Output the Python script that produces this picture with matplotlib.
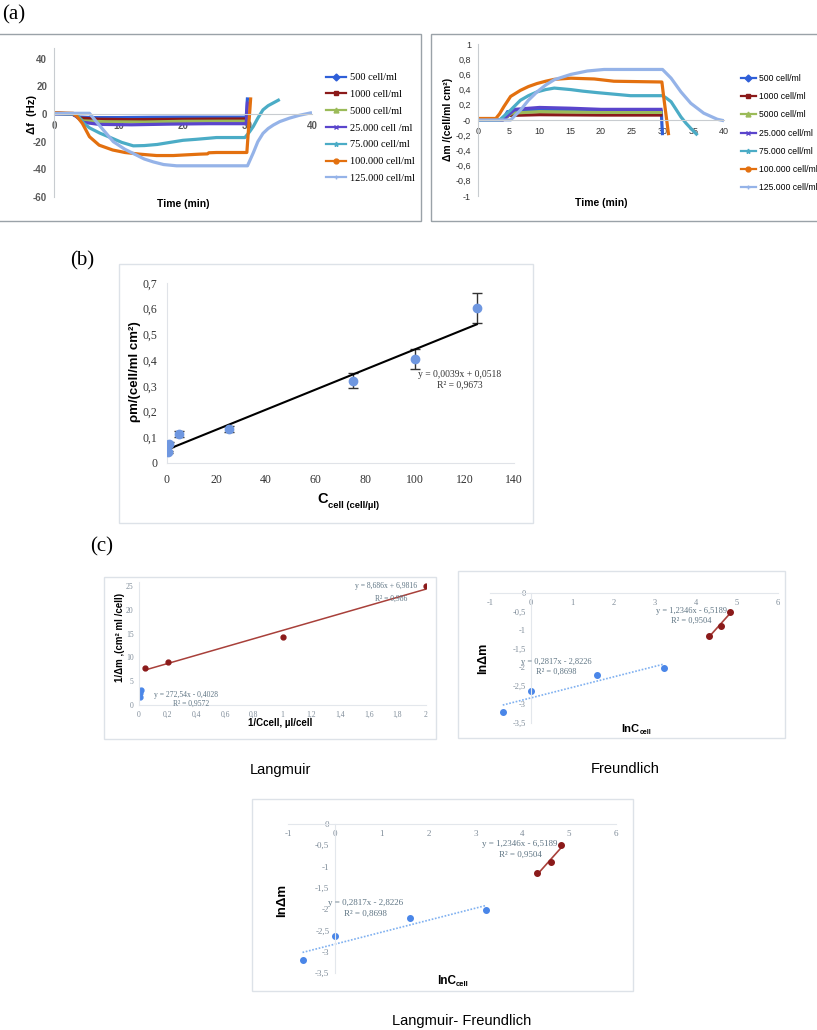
import numpy as np
import matplotlib
matplotlib.use('Agg')
import matplotlib.pyplot as plt
from matplotlib.patches import Rectangle
from matplotlib.lines import Line2D
from matplotlib.ticker import FuncFormatter
from matplotlib.transforms import Bbox, TransformedBbox

plt.rcParams['axes.unicode_minus'] = False

# ---------------- data ----------------
labels_a = ['500 cell/ml', '1000 cell/ml', '5000 cell/ml', '25.000 cell /ml',
            '75.000 cell/ml', '100.000 cell/ml', '125.000 cell/ml']
labels_a2 = ['500 cell/ml', '1000 cell/ml', '5000 cell/ml', '25.000 cell/ml',
             '75.000 cell/ml', '100.000 cell/ml', '125.000 cell/ml']
colors_a = ['#2f5fd8', '#8b1a1a', '#9bbb59', '#5a45cc', '#4bacc6', '#e3700f', '#95b3e8']
markers_a = ['D', 's', '^', 'x', '*', 'o', '+']

# (a) left: frequency shift (Hz) vs time (min)
t_f500 = [0, 2.8, 3.8, 6, 10, 15, 20, 25, 29.8, 29.9, 30.0]
df_500 = [0.5, 0, -2.2, -2.6, -2.6, -2.4, -2.3, -2.3, -2.3, 4, 12]
t_f1000 = [0, 2.8, 4, 7, 12, 18, 24, 29.8]
df_1000 = [0.8, 0, -3, -3.8, -4.1, -3.9, -3.7, -3.6]
t_f5000 = [0, 3, 4.5, 8, 14, 20, 26, 29.8]
df_5000 = [0.3, 0, -5, -5.6, -5.8, -5.3, -5.2, -5.2]
t_f25k = [0, 3, 4.5, 7, 12, 18, 24, 29.8, 29.9, 30.0]
df_25k = [0, 0, -6, -7.5, -7.8, -7.3, -7, -7, 2, 9]
t_f75k = [0, 3.5, 4.6, 5.5, 7.1, 9, 10.5, 12.3, 14, 16, 18, 20, 22, 24, 25.2, 27, 29.6,
          30.3, 30.9, 31.6, 32.4, 33.2, 34, 35]
df_75k = [0.3, 0, -6.7, -10, -13.8, -17.5, -20.5, -23, -22.8, -22, -20.5, -19, -18.3, -17.5,
          -17, -17, -17, -13, -9, -3, 3, 6, 8, 10.5]
t_f100k = [0, 3, 3.6, 4.4, 5.5, 7, 9.1, 11, 13.3, 15.9, 18.5, 20.5, 22.6, 23.8, 24, 25.2,
           29.9, 30.2, 30.5]
df_100k = [1, 0.5, -2, -6.8, -16.4, -22.5, -26, -27.8, -29, -30, -30, -29.5, -29, -28.8,
           -28, -27.8, -27.8, -8, 12]
t_f125k = [0, 5.5, 7, 9.2, 11, 12.8, 14, 15.4, 17, 19, 25, 30, 30.9, 31.6, 32.4, 33.2,
           34, 35, 36.5, 38, 40]
df_125k = [0.5, 0.5, -8, -20, -25.5, -29.7, -32.5, -34.6, -36.5, -37.4, -37.4, -37.4,
           -28, -20, -14, -10.5, -8, -5.5, -3, -1, 1]

# (a) right: mass change vs time (min)
t_m500 = [0, 4, 4.8, 8, 15, 22, 29.8, 29.9, 30.0]
dm_500 = [0, 0, 0.11, 0.125, 0.125, 0.125, 0.125, -0.05, -0.2]
t_m1000 = [0, 4, 5, 10, 20, 30]
dm_1000 = [0, 0, 0.06, 0.07, 0.065, 0.065]
t_m5000 = [0, 4, 5.5, 10, 20, 30]
dm_5000 = [0, 0, 0.09, 0.11, 0.1, 0.1]
t_m25k = [0, 4, 6, 10, 15, 20, 30]
dm_25k = [0, 0, 0.14, 0.165, 0.155, 0.14, 0.14]
t_m75k = [0, 3.5, 4.2, 5.3, 6.9, 8.2, 9.6, 11, 12.4, 15.1, 17, 19.4, 22.1, 24.8, 30,
          30.6, 31.4, 32.2, 33, 33.8, 34.6, 35.7]
dm_75k = [0, 0, 0.05, 0.13, 0.26, 0.32, 0.37, 0.4, 0.42, 0.4, 0.38, 0.36, 0.34, 0.32, 0.32,
          0.29, 0.24, 0.14, 0.04, -0.04, -0.11, -0.2]
t_m100k = [0, 2.9, 3.5, 4.2, 5.3, 6.9, 8.2, 9.6, 11, 12.4, 15.1, 18.9, 22.1, 29.9, 30.2,
           30.6, 31]
dm_100k = [0.02, 0.02, 0.08, 0.175, 0.31, 0.39, 0.44, 0.48, 0.51, 0.535, 0.55, 0.54, 0.51,
           0.5, 0.3, 0.05, -0.2]
t_m125k = [0, 5.3, 6.9, 8.2, 9.6, 11, 12.4, 15.1, 17.8, 20.5, 30, 31.4, 33, 34.6, 36.7,
           38.9, 40]
dm_125k = [0, 0, 0.13, 0.26, 0.37, 0.46, 0.53, 0.6, 0.645, 0.665, 0.665, 0.55, 0.37, 0.22,
           0.09, 0.01, -0.01]

# (b) mass vs cell concentration
c_cell = [0.5, 1, 5, 25, 75, 100, 125]
dm_cell = [0.043, 0.072, 0.113, 0.133, 0.32, 0.405, 0.602]
dm_err = [0.005, 0.009, 0.01, 0.012, 0.03, 0.04, 0.058]
fit_b = (0.0039, 0.0518)

# (c) Langmuir
inv_c_red = [0.04, 0.2, 1, 2]
inv_dm_red = [7.7, 9.1, 14.2, 25.0]
inv_c_blue = [0.008, 0.01, 0.0133]
inv_dm_blue = [1.7, 2.5, 3.1]
fit_l_red = (8.686, 6.9816)
fit_l_blue = (272.54, -0.4028)

# (c) Freundlich / Langmuir-Freundlich
lnc_blue = [-0.69, 0, 1.61, 3.22]
lndm_blue = [-3.2, -2.63, -2.2, -2.02]
lnc_red = [4.32, 4.61, 4.83]
lndm_red = [-1.15, -0.9, -0.5]
fit_f_blue = (0.2817, -2.8226)
fit_f_red = (1.2346, -6.5189)

# ---------------- figure ----------------
W, H = 817, 1030
fig = plt.figure(figsize=(W / 100, H / 100), dpi=100)
SANS = 'Liberation Sans'
SERIF = 'Liberation Serif'

comma = FuncFormatter(lambda v, p: ('%g' % v).replace('.', ','))


def px_axes(l, t, r, b):
    return fig.add_axes([l / W, 1 - b / H, (r - l) / W, (b - t) / H])


def frame(l, t, r, b, color, lw=1.0):
    fig.add_artist(Rectangle((l / W, 1 - b / H), (r - l) / W, (b - t) / H,
                             transform=fig.transFigure, fill=False, ec=color, lw=lw))


def ptext(x, y, s, **kw):
    return fig.text(x / W, 1 - y / H, s, **kw)


def line_fit(ax, xs, coef, **kw):
    xx = np.array([min(xs), max(xs)])
    ax.plot(xx, coef[0] * xx + coef[1], **kw)


# panel labels
ptext(14, 15, '(a)', family=SERIF, fontsize=15, ha='center', va='center')
ptext(82, 261, '(b)', family=SERIF, fontsize=15, ha='center', va='center')
ptext(102, 547, '(c)', family=SERIF, fontsize=15, ha='center', va='center')

# frames
frame(-2, 34, 421, 221, '#9aa2a8')
frame(431, 34, 820, 221, '#9aa2a8')
frame(119, 264, 533, 523, '#dde2e8')
frame(104, 577, 436, 739, '#dde2e8')
frame(458, 571, 785, 738, '#dde2e8')
frame(252, 799, 633, 991, '#dde2e8')

# ---------- (a) left ----------
ax1 = px_axes(54, 47.5, 312, 197.1)
series_f = [(t_f500, df_500), (t_f1000, df_1000), (t_f5000, df_5000), (t_f25k, df_25k),
            (t_f75k, df_75k), (t_f100k, df_100k), (t_f125k, df_125k)]
for (tt, vv), c in zip(series_f, colors_a):
    ax1.plot(tt, vv, color=c, lw=2.3, solid_capstyle='butt')
ax1.set_xlim(0, 40)
ax1.set_ylim(-60, 48)
ax1.set_yticks([40, 20, 0, -20, -40, -60])
ax1.set_xticks([0, 10, 20, 30, 40])
for s in ['top', 'right']:
    ax1.spines[s].set_visible(False)
ax1.spines['bottom'].set_position(('data', 0))
ax1.spines['bottom'].set_color('#c8ccd0')
ax1.spines['left'].set_color('#c8ccd0')
ax1.tick_params(length=0, labelsize=7, labelcolor='#595959', pad=5)
for lab in ax1.get_xticklabels() + ax1.get_yticklabels():
    lab.set_family(SANS)
    lab.set_fontweight('bold')
ax1.patch.set_visible(False)
ptext(183, 204, 'Time (min)', family=SANS, fontweight='bold', fontsize=7.5,
      ha='center', va='center')
ptext(32, 114, '\u0394f  (Hz)', family=SANS, fontweight='bold', fontsize=8,
      ha='center', va='center', rotation=90)

handles = [Line2D([], [], color=c, lw=1.6, marker=m, markersize=3.5, mew=1)
           for c, m in zip(colors_a, markers_a)]
leg1 = fig.legend(handles, labels_a, loc='upper left',
                  bbox_to_anchor=(326 / W, 1 - 73 / H), frameon=False,
                  prop={'family': SERIF, 'size': 7.5}, labelspacing=0.72,
                  handlelength=1.9, handletextpad=0.45, borderpad=0, borderaxespad=0)
clipbox = TransformedBbox(Bbox([[0, 0], [420 / W, 1]]), fig.transFigure)
for txt in leg1.get_texts():
    txt.set_clip_on(True)
    txt.set_clip_box(clipbox)

# ---------- (a) right ----------
ax2 = px_axes(478, 44, 724, 196)
series_m = [(t_m500, dm_500), (t_m1000, dm_1000), (t_m5000, dm_5000), (t_m25k, dm_25k),
            (t_m75k, dm_75k), (t_m100k, dm_100k), (t_m125k, dm_125k)]
for (tt, vv), c in zip(series_m, colors_a):
    ax2.plot(tt, vv, color=c, lw=2.3, solid_capstyle='butt')
ax2.set_xlim(0, 40)
ax2.set_ylim(-1, 1)
ax2.set_yticks(np.round(np.arange(-1, 1.01, 0.2), 1))
ax2.set_xticks([0, 5, 10, 15, 20, 25, 30, 35, 40])
ax2.yaxis.set_major_formatter(comma)
for s in ['top', 'right']:
    ax2.spines[s].set_visible(False)
ax2.spines['bottom'].set_position(('data', 0))
ax2.spines['bottom'].set_color('#c8ccd0')
ax2.spines['left'].set_color('#c8ccd0')
ax2.tick_params(length=0, labelsize=6.5, labelcolor='#333333', pad=5)
for lab in ax2.get_xticklabels() + ax2.get_yticklabels():
    lab.set_family(SANS)
ax2.patch.set_visible(False)
ptext(601, 203, 'Time (min)', family=SANS, fontweight='bold', fontsize=7.5,
      ha='center', va='center')
ptext(448, 119, '\u0394m /(cell/ml cm\u00b2)', family=SANS, fontweight='bold', fontsize=7.5,
      ha='center', va='center', rotation=90)
fig.legend(handles, labels_a2, loc='upper left',
           bbox_to_anchor=(741 / W, 1 - 74 / H), frameon=False,
           prop={'family': SANS, 'size': 6.2}, labelspacing=1.07,
           handlelength=1.7, handletextpad=0.4, borderpad=0, borderaxespad=0)

# ---------- (b) ----------
axb = px_axes(167, 283, 514, 463)
axb.errorbar(c_cell, dm_cell, yerr=dm_err, fmt='none', ecolor='#333333', elinewidth=1,
             capsize=3.5, capthick=1, zorder=2)
line_fit(axb, c_cell, fit_b, color='black', lw=1.5, zorder=3)
axb.plot(c_cell, dm_cell, 'o', color='#6f97e0', markersize=6, zorder=4)
axb.set_xlim(0, 140)
axb.set_ylim(0, 0.7)
axb.set_xticks(range(0, 141, 20))
axb.set_yticks(np.round(np.arange(0, 0.71, 0.1), 1))
axb.yaxis.set_major_formatter(comma)
for s in ['top', 'right']:
    axb.spines[s].set_visible(False)
axb.spines['left'].set_color('#e0e3e8')
axb.spines['bottom'].set_color('#e0e3e8')
axb.tick_params(length=0, labelsize=8.5, labelcolor='#333333')
axb.tick_params(axis='x', pad=8)
axb.tick_params(axis='y', pad=7)
for lab in axb.get_xticklabels() + axb.get_yticklabels():
    lab.set_family(SERIF)
axb.patch.set_visible(False)
axb.text(118, 0.346, 'y = 0,0039x + 0,0518', family=SERIF, fontsize=6.9, color='#333333',
         ha='center', va='center')
axb.text(118, 0.304, 'R\u00b2 = 0,9673', family=SERIF, fontsize=6.9, color='#333333',
         ha='center', va='center')
ptext(323, 499, 'C', family=SANS, fontweight='bold', fontsize=10.5, ha='center', va='center')
ptext(328, 505, 'cell (cell/\u00b5l)', family=SANS, fontweight='bold', fontsize=6.8,
      ha='left', va='center')
ptext(135, 372, '\u03c1m/(cell/ml cm\u00b2)', family=SANS, fontweight='bold', fontsize=9.5,
      ha='center', va='center', rotation=90)

# ---------- (c) Langmuir ----------
tick_col = '#7f8c99'
eq_col = '#5f7584'
red_pt = '#8b1a1a'
red_ln = '#a8403a'
blue_pt = '#4a86e8'
blue_ln = '#7fb0f0'

axl = px_axes(139, 582, 426, 705)
line_fit(axl, inv_c_red, fit_l_red, color=red_ln, lw=1.1)
line_fit(axl, inv_c_blue, fit_l_blue, color=blue_ln, lw=1.1)
axl.plot(inv_c_red, inv_dm_red, 'o', color=red_pt, markersize=3.5)
axl.plot(inv_c_blue, inv_dm_blue, 'o', color=blue_pt, markersize=3.5)
axl.set_xlim(0, 2)
axl.set_ylim(0, 25 * 123 / 119)
axl.set_xticks(np.round(np.arange(0, 2.01, 0.2), 1))
axl.set_yticks([0, 5, 10, 15, 20, 25])
axl.xaxis.set_major_formatter(comma)
for s in ['top', 'right']:
    axl.spines[s].set_visible(False)
axl.spines['left'].set_color('#e3e7ec')
axl.spines['bottom'].set_color('#e3e7ec')
axl.tick_params(length=0, labelsize=5.5, labelcolor=tick_col, pad=4)
for lab in axl.get_xticklabels() + axl.get_yticklabels():
    lab.set_family(SERIF)
axl.patch.set_visible(False)
axl.text(1.72, 24.9, 'y = 8,686x + 6,9816', family=SERIF, fontsize=5.5, color=eq_col,
         ha='center', va='center')
axl.text(1.76, 22.4, 'R\u00b2 = 0,986', family=SERIF, fontsize=5.5, color=eq_col,
         ha='center', va='center')
axl.text(0.33, 2.0, 'y = 272,54x - 0,4028', family=SERIF, fontsize=5.5, color=eq_col,
         ha='center', va='center')
axl.text(0.36, 0.3, 'R\u00b2 = 0,9572', family=SERIF, fontsize=5.5, color=eq_col,
         ha='center', va='center')
ptext(280, 723, '1/Ccell, \u00b5l/cell', family=SANS, fontweight='bold', fontsize=7,
      ha='center', va='center')
ptext(120, 637, '1/\u0394m ,(cm\u00b2 ml /cell)', family=SANS, fontweight='bold', fontsize=7,
      ha='center', va='center', rotation=90)
ptext(280, 770, 'Langmuir', family=SANS, fontsize=10.5, ha='center', va='center')


# ---------- (c) Freundlich & Langmuir-Freundlich ----------
def freundlich(ax, fs_tick, fs_eq, eq_red_xy, eq_blue_xy, dy):
    line_fit(ax, lnc_blue, fit_f_blue, color=blue_ln, lw=1.2, ls=(0, (1, 1)))
    line_fit(ax, lnc_red, fit_f_red, color=red_ln, lw=1.2)
    ax.plot(lnc_blue, lndm_blue, 'o', color=blue_pt, markersize=4)
    ax.plot(lnc_red, lndm_red, 'o', color=red_pt, markersize=4)
    ax.set_xlim(-1, 6)
    ax.set_ylim(-3.5, 0)
    ax.set_xticks(range(-1, 7))
    ax.set_yticks(np.round(np.arange(-3.5, 0.01, 0.5), 1))
    ax.yaxis.set_major_formatter(comma)
    for s in ['top', 'right']:
        ax.spines[s].set_visible(False)
    ax.spines['bottom'].set_position(('data', 0))
    ax.spines['left'].set_position(('data', 0))
    ax.spines['left'].set_color('#e3e7ec')
    ax.spines['bottom'].set_color('#e3e7ec')
    ax.tick_params(length=0, labelsize=fs_tick, labelcolor=tick_col, pad=4)
    for lab in ax.get_xticklabels() + ax.get_yticklabels():
        lab.set_family(SERIF)
    ax.patch.set_visible(False)
    ax.text(eq_red_xy[0], eq_red_xy[1], 'y = 1,2346x - 6,5189', family=SERIF,
            fontsize=fs_eq, color=eq_col, ha='center', va='center')
    ax.text(eq_red_xy[0], eq_red_xy[1] - dy, 'R\u00b2 = 0,9504', family=SERIF,
            fontsize=fs_eq, color=eq_col, ha='center', va='center')
    ax.text(eq_blue_xy[0], eq_blue_xy[1], 'y = 0,2817x - 2,8226', family=SERIF,
            fontsize=fs_eq, color=eq_col, ha='center', va='center')
    ax.text(eq_blue_xy[0], eq_blue_xy[1] - dy, 'R\u00b2 = 0,8698', family=SERIF,
            fontsize=fs_eq, color=eq_col, ha='center', va='center')


axf = px_axes(490, 593, 778, 723)
freundlich(axf, 6, 6, (3.9, -0.48), (0.6, -1.86), 0.27)
ptext(483, 658, 'ln\u0394m', family=SANS, fontweight='bold', fontsize=9,
      ha='center', va='center', rotation=90)
ptext(621, 729, 'lnC', family=SANS, fontweight='bold', fontsize=8, ha='left', va='center')
ptext(640, 733, 'cell', family=SANS, fontweight='bold', fontsize=5, ha='left', va='center')
ptext(625, 769, 'Freundlich', family=SANS, fontsize=10.5, ha='center', va='center')

axlf = px_axes(288, 824, 616, 973)
freundlich(axlf, 6.5, 6.5, (3.95, -0.47), (0.65, -1.85), 0.26)
ptext(282, 900, 'ln\u0394m', family=SANS, fontweight='bold', fontsize=9.5,
      ha='center', va='center', rotation=90)
ptext(437, 981, 'lnC', family=SANS, fontweight='bold', fontsize=8.5, ha='left', va='center')
ptext(456, 985, 'cell', family=SANS, fontweight='bold', fontsize=5.5, ha='left', va='center')
ptext(462, 1021, 'Langmuir- Freundlich', family=SANS, fontsize=10.5, ha='center', va='center')

fig.savefig('out.png', dpi=100)
